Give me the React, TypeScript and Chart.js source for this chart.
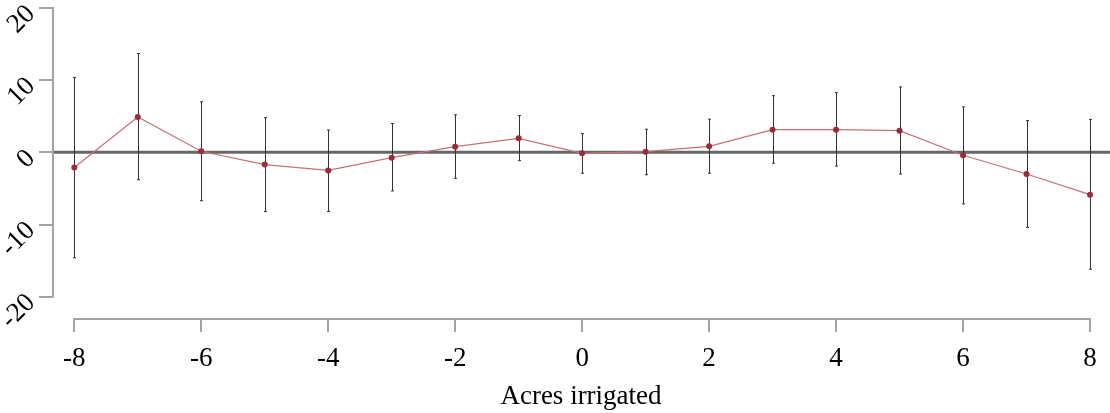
import React, { useEffect, useRef } from 'react';
import { Chart, registerables } from 'chart.js';

Chart.register(...registerables);

// ---- data ----
const xValues = [-8, -7, -6, -5, -4, -3, -2, -1, 0, 1, 2, 3, 4, 5, 6, 7, 8];
const estimates = [-2.1, 4.9, 0.15, -1.7, -2.5, -0.74, 0.79, 1.94, -0.14, 0.1, 0.83, 3.14, 3.14, 3.0, -0.4, -3.0, -5.86];
const upperCI = [10.4, 13.7, 7.0, 4.8, 3.1, 4.0, 5.2, 5.1, 2.6, 3.2, 4.6, 7.85, 8.27, 9.06, 6.3, 4.4, 4.57];
const lowerCI = [-14.6, -3.8, -6.7, -8.2, -8.2, -5.35, -3.6, -1.15, -2.9, -3.1, -2.9, -1.5, -1.9, -3.0, -7.15, -10.4, -16.2];
const xTickValues = [-8, -6, -4, -2, 0, 2, 4, 6, 8];
const yTickValues = [-20, -10, 0, 10, 20];
const xAxisTitle = 'Acres irrigated';

const FONT = "'Liberation Serif', 'Times New Roman', serif";
const FONT_SIZE = 27;
const AXIS_GRAY = '#a3a3a3';

const decorPlugin = {
  id: 'decor',
  beforeDatasetsDraw(chart: any) {
    const { ctx, chartArea } = chart;
    const x = chart.scales.x;
    const y = chart.scales.y;
    ctx.save();
    // reference line at zero
    const y0 = y.getPixelForValue(0);
    ctx.strokeStyle = '#676767';
    ctx.lineWidth = 3;
    ctx.beginPath();
    ctx.moveTo(chartArea.left, y0);
    ctx.lineTo(chartArea.right, y0);
    ctx.stroke();
    // axis lines spanning the tick range
    ctx.strokeStyle = AXIS_GRAY;
    ctx.lineWidth = 2;
    ctx.beginPath();
    ctx.moveTo(chartArea.left + 1, y.getPixelForValue(yTickValues[yTickValues.length - 1]) - 1);
    ctx.lineTo(chartArea.left + 1, y.getPixelForValue(yTickValues[0]) + 1);
    ctx.stroke();
    ctx.beginPath();
    ctx.moveTo(x.getPixelForValue(xTickValues[0]) - 1, chartArea.bottom);
    ctx.lineTo(x.getPixelForValue(xTickValues[xTickValues.length - 1]) + 1, chartArea.bottom);
    ctx.stroke();
    // error bars
    ctx.strokeStyle = '#333333';
    ctx.lineWidth = 1;
    for (let i = 0; i < xValues.length; i++) {
      const px = Math.round(x.getPixelForValue(xValues[i])) + 0.5;
      const pTop = y.getPixelForValue(upperCI[i]);
      const pBot = y.getPixelForValue(lowerCI[i]);
      ctx.beginPath();
      ctx.moveTo(px, pTop);
      ctx.lineTo(px, pBot);
      ctx.moveTo(px - 1.5, pTop);
      ctx.lineTo(px + 1.5, pTop);
      ctx.moveTo(px - 1.5, pBot);
      ctx.lineTo(px + 1.5, pBot);
      ctx.stroke();
    }
    ctx.restore();
  },
  afterDraw(chart: any) {
    // rotated y tick labels, right-aligned at their tick
    const { ctx, chartArea } = chart;
    const y = chart.scales.y;
    ctx.save();
    ctx.font = `${FONT_SIZE}px ${FONT}`;
    ctx.fillStyle = '#000';
    ctx.textAlign = 'right';
    ctx.textBaseline = 'middle';
    for (const t of y.ticks) {
      const py = y.getPixelForValue(t.value);
      ctx.save();
      ctx.translate(chartArea.left - 21, py + 2);
      ctx.rotate(-Math.PI / 4);
      ctx.fillText(String(t.label), 0, 0);
      ctx.restore();
    }
    ctx.restore();
  },
};

export default function App() {
  const canvasRef = useRef<HTMLCanvasElement | null>(null);

  useEffect(() => {
    if (!canvasRef.current) return;
    const chart = new Chart(canvasRef.current, {
      type: 'line',
      data: {
        datasets: [
          {
            data: xValues.map((v, i) => ({ x: v, y: estimates[i] })),
            borderColor: '#c4707a',
            borderWidth: 1.2,
            pointBackgroundColor: '#9a2b3a',
            pointBorderColor: '#9a2b3a',
            pointRadius: 3,
            pointBorderWidth: 0,
            tension: 0,
            clip: false,
          },
        ],
      },
      plugins: [decorPlugin],
      options: {
        animation: false,
        responsive: false,
        devicePixelRatio: 1,
        layout: { autoPadding: false, padding: { top: 8, left: 0, right: 0, bottom: 0 } },
        plugins: { legend: { display: false }, tooltip: { enabled: false } },
        scales: {
          x: {
            type: 'linear',
            min: -8.351,
            max: 8.315,
            afterBuildTicks: (s: any) => {
              s.ticks = xTickValues.map((v) => ({ value: v }));
            },
            afterFit: (s: any) => {
              s.height = 94;
              s.paddingLeft = 0;
              s.paddingRight = 0;
            },
            border: { display: false },
            grid: {
              drawOnChartArea: false,
              drawTicks: true,
              tickLength: 13,
              color: AXIS_GRAY,
              lineWidth: 2,
            },
            ticks: {
              font: { family: FONT, size: FONT_SIZE },
              color: '#000',
              padding: 11,
              maxRotation: 0,
              minRotation: 0,
              callback: (v: any) => String(v),
            },
            title: {
              display: true,
              text: xAxisTitle,
              font: { family: FONT, size: FONT_SIZE },
              color: '#000',
              padding: { top: 0, bottom: 0 },
            },
          },
          y: {
            type: 'linear',
            min: -23.09,
            max: 20,
            afterBuildTicks: (s: any) => {
              s.ticks = yTickValues.map((v) => ({ value: v }));
            },
            afterFit: (s: any) => {
              s.width = 52;
              s.paddingTop = 0;
              s.paddingBottom = 0;
            },
            border: { display: false },
            grid: {
              drawOnChartArea: false,
              drawTicks: true,
              tickLength: 13,
              color: AXIS_GRAY,
              lineWidth: 2,
            },
            ticks: {
              display: false,
              callback: (v: any) => String(v),
            },
          },
        },
      },
    });
    return () => chart.destroy();
  }, []);

  return (
    <div style={{ position: 'absolute', left: 0, top: 0, width: 1110, height: 413, background: '#fff' }}>
      <canvas ref={canvasRef} width={1110} height={413} />
    </div>
  );
}
